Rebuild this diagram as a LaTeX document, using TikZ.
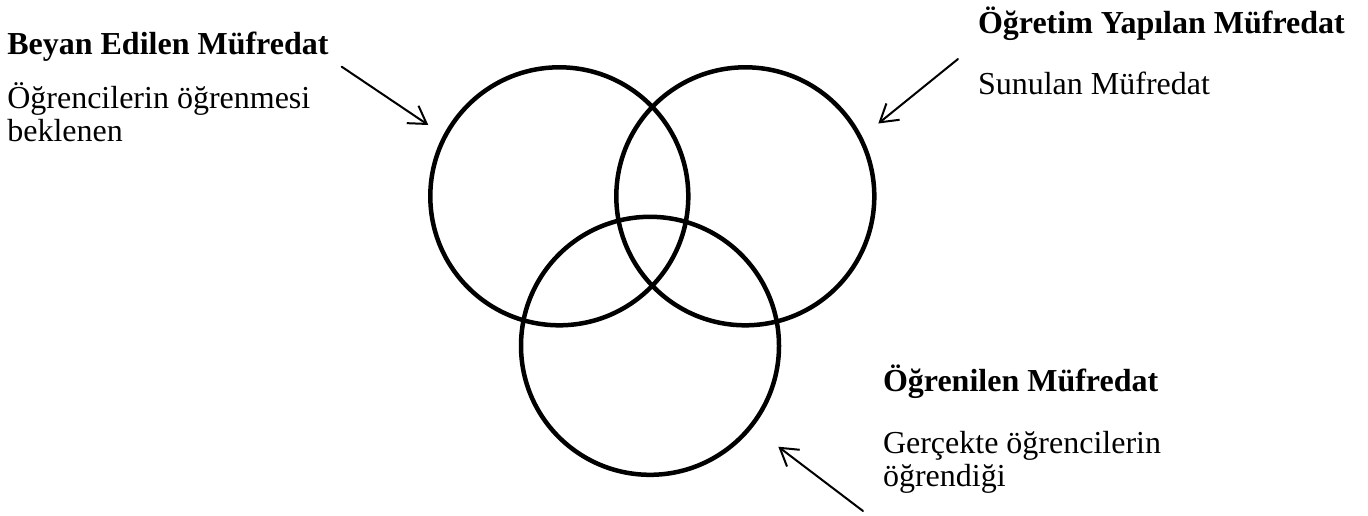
\documentclass[tikz,border=0pt]{standalone}
\usepackage{fontspec}
\setmainfont{Liberation Serif}
\usetikzlibrary{arrows.meta}
\tikzset{
  ring/.style={draw=black,circle,line width=4.5pt,minimum size=258pt,inner sep=0pt,outer sep=0pt},
  pointer/.style={draw=black,line width=2pt,line cap=round,-{Straight Barb[length=17pt,width=21pt,line width=2pt]}},
  headline/.style={anchor=base west,inner sep=0pt,font=\fontsize{32}{36}\selectfont\bfseries},
  remark/.style={anchor=base west,inner sep=0pt,align=left,font=\fontsize{32}{32.5}\selectfont},
}
\begin{document}
\begin{tikzpicture}[x=1pt, y=-1pt, inner sep=0pt, outer sep=0pt]
  \useasboundingbox (0,0) rectangle (1368,515);
  % circles
  \node[ring] (beyan) at (559.3,196.3) {};
  \node[ring] (ogretim) at (745.3,196.3) {};
  \node[ring] (ogrenilen) at (650,345.8) {};
  % texts (remark nodes sit on their last baseline)
  \node[headline] (beyanT) at (7.3,54.3) {Beyan Edilen Müfredat};
  \node[remark] (beyanN) at (7.3,141) {Öğrencilerin öğrenmesi\\beklenen};
  \node[headline] (ogretimT) at (978,33) {Öğretim Yapılan Müfredat};
  \node[remark] (ogretimN) at (978,94) {Sunulan Müfredat};
  \node[headline] (ogrenilenT) at (883,391.7) {Öğrenilen Müfredat};
  \node[remark] (ogrenilenN) at (883,486) {Gerçekte öğrencilerin\\öğrendiği};
  % arrows
  \coordinate (beyanA) at (341.7,66.7);
  \coordinate (beyanB) at (428.3,125);
  \coordinate (ogretimA) at (958,59);
  \coordinate (ogretimB) at (878.3,123.5);
  \coordinate (ogrenilenA) at (863,511);
  \coordinate (ogrenilenB) at (778.3,446.7);
  \draw[pointer] (beyanA) -- (beyanB);
  \draw[pointer] (ogretimA) -- (ogretimB);
  \draw[pointer] (ogrenilenA) -- (ogrenilenB);
\end{tikzpicture}
\end{document}
